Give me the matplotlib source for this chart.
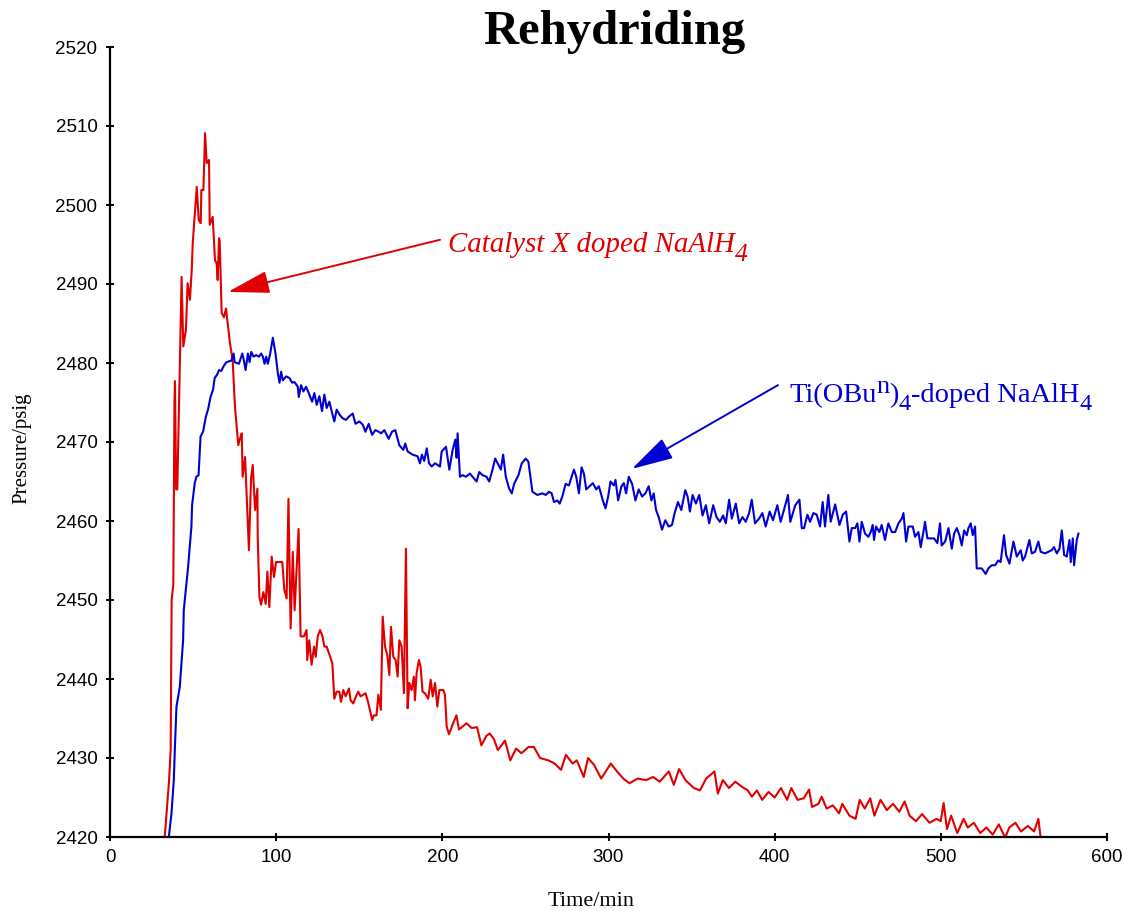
import matplotlib
matplotlib.use("Agg")
import matplotlib.pyplot as plt

# ---------------- data ----------------
red_t = [33.0, 35.5, 36.5, 37.1, 38.1, 38.8, 39.1, 39.8, 40.5, 43.1, 44.1, 45.7, 46.7, 48.1, 49.2, 49.8,
         52.2, 53.4, 54.6, 55.0, 56.2, 57.2, 58.2, 59.6, 60.0, 61.8, 63.2, 64.2, 64.8, 65.6, 66.0, 67.2,
         68.6, 69.8, 72.2, 73.8, 75.2, 77.2, 78.2, 79.3, 79.8, 81.3, 83.6, 84.9, 85.9, 87.3, 88.7, 88.9,
         89.9, 90.9, 92.3, 93.7, 94.7, 95.9, 97.3, 98.7, 99.9, 101.9, 103.7, 104.9, 106.3, 107.4, 108.7,
         110.0, 111.1, 113.5, 114.7, 116.7, 118.3, 118.7, 119.9, 121.3, 122.8, 123.8, 125.0, 126.4, 127.9,
         129.0, 130.4, 133.8, 135.0, 136.4, 138.0, 139.0, 140.4, 141.8, 143.8, 144.8, 146.4, 148.0, 149.4,
         150.8, 153.8, 155.4, 157.8, 158.8, 160.4, 161.5, 163.0, 164.1, 165.5, 166.9, 168.1, 169.1, 170.5,
         171.9, 173.1, 174.1, 175.5, 176.9, 178.1, 179.1, 180.1, 181.5, 182.9, 183.5, 184.5, 185.9, 186.9,
         188.1, 189.5, 191.5, 193.0, 194.2, 195.6, 197.0, 198.2, 200.6, 201.6, 202.6, 204.0, 206.5, 208.5,
         210.0, 214.5, 217.6, 220.9, 223.5, 226.5, 228.5, 231.0, 233.4, 237.7, 240.9, 244.4, 247.6, 251.9,
         255.1, 258.8, 263.8, 267.6, 271.4, 274.4, 278.4, 280.9, 285.1, 287.7, 291.4, 295.6, 301.4, 305.1,
         308.9, 312.6, 317.6, 322.6, 326.8, 330.8, 336.3, 339.3, 342.5, 346.3, 351.3, 355.0, 358.8, 363.8,
         365.8, 368.8, 372.5, 376.3, 380.0, 383.8, 386.3, 389.3, 392.5, 396.3, 400.0, 403.8, 407.5, 410.0,
         413.8, 417.5, 420.7, 422.5, 426.3, 428.3, 431.3, 435.0, 438.8, 440.7, 445.0, 448.7, 451.2, 454.2,
         457.5, 460.0, 463.7, 467.5, 471.2, 475.0, 478.2, 481.2, 485.0, 488.7, 493.2, 497.4, 499.9, 501.7,
         503.7, 506.2, 509.9, 513.7, 516.2, 519.9, 523.7, 527.4, 531.2, 534.9, 538.7, 541.2, 544.9, 548.2,
         552.4, 556.1, 558.7, 559.9]
red_p = [2420.2, 2427.0, 2431.0, 2450.0, 2452.0, 2475.0, 2477.7, 2464.0, 2464.0, 2490.9, 2482.1, 2484.2,
         2490.1, 2488.0, 2491.8, 2495.2, 2502.3, 2498.1, 2497.7, 2501.9, 2501.9, 2509.1, 2505.3, 2505.7,
         2497.5, 2498.5, 2493.0, 2492.6, 2490.5, 2495.8, 2495.5, 2486.3, 2485.8, 2486.9, 2482.5, 2480.4,
         2474.5, 2469.6, 2470.4, 2471.1, 2465.6, 2468.1, 2456.3, 2465.4, 2467.1, 2461.4, 2464.1, 2458.0,
         2450.4, 2449.4, 2451.0, 2449.5, 2453.6, 2449.1, 2455.5, 2452.9, 2454.8, 2454.8, 2454.8, 2451.3,
         2450.2, 2462.8, 2446.4, 2456.1, 2448.7, 2459.0, 2445.4, 2445.4, 2446.2, 2442.4, 2444.9, 2441.8,
         2444.1, 2442.8, 2445.4, 2446.2, 2445.4, 2444.1, 2444.1, 2442.0, 2437.5, 2438.4, 2438.4, 2437.1,
         2438.6, 2437.8, 2438.8, 2437.3, 2436.9, 2437.8, 2438.4, 2437.8, 2438.2, 2437.0, 2434.8, 2435.4,
         2435.4, 2438.0, 2436.1, 2447.9, 2444.1, 2443.0, 2440.5, 2446.6, 2442.8, 2442.4, 2440.3, 2444.9,
         2444.1, 2438.2, 2456.5, 2436.3, 2439.5, 2438.6, 2440.3, 2437.3, 2440.7, 2442.4, 2441.6, 2438.4,
         2438.2, 2437.5, 2439.9, 2437.8, 2439.5, 2436.5, 2438.6, 2438.6, 2438.0, 2434.0, 2433.0, 2434.4,
         2435.4, 2433.6, 2434.4, 2433.8, 2433.9, 2431.6, 2432.8, 2433.1, 2432.4, 2431.0, 2432.2, 2429.7,
         2431.2, 2430.6, 2431.4, 2431.4, 2430.0, 2429.7, 2429.3, 2428.5, 2430.4, 2429.3, 2429.7, 2427.6,
         2430.0, 2429.1, 2427.4, 2429.3, 2428.3, 2427.4, 2426.8, 2427.4, 2427.2, 2427.6, 2427.0, 2428.3,
         2426.6, 2428.6, 2427.2, 2426.2, 2425.9, 2427.4, 2428.3, 2425.5, 2427.2, 2426.2, 2427.0, 2426.4,
         2425.9, 2425.1, 2425.9, 2424.7, 2425.7, 2425.0, 2426.2, 2424.7, 2426.2, 2424.7, 2424.9, 2426.0,
         2423.8, 2424.2, 2425.1, 2423.6, 2424.0, 2423.0, 2424.2, 2422.7, 2422.3, 2424.7, 2423.6, 2424.9,
         2422.7, 2424.7, 2423.4, 2424.2, 2423.2, 2424.5, 2422.7, 2422.0, 2422.9, 2421.8, 2422.3, 2422.0,
         2424.3, 2421.0, 2422.7, 2420.5, 2422.3, 2421.2, 2421.8, 2420.5, 2421.2, 2420.3, 2421.6, 2419.9,
         2421.2, 2421.8, 2420.7, 2421.4, 2420.7, 2422.3, 2420.2]

blue_t = [35.4, 37.0, 38.4, 39.0, 40.0, 42.0, 44.0, 44.4, 47.0, 49.0, 49.4, 51.0, 52.0, 53.3, 54.5, 56.0,
          57.7, 59.1, 60.5, 62.0, 63.0, 64.4, 65.6, 67.0, 68.4, 70.0, 73.0, 74.4, 75.0, 77.6, 79.6, 80.4,
          81.6, 83.0, 84.0, 85.0, 86.4, 88.0, 89.6, 91.0, 92.0, 93.0, 94.0, 95.0, 96.4, 98.0, 99.6, 101.0,
          102.0, 103.0, 104.0, 106.0, 108.0, 109.6, 111.0, 113.0, 113.6, 115.0, 116.4, 118.0, 119.6, 121.6,
          123.0, 124.4, 126.0, 127.6, 129.0, 130.4, 132.0, 133.4, 135.0, 136.4, 138.0, 140.0, 142.0, 143.7,
          146.1, 147.7, 150.1, 152.1, 153.7, 155.7, 157.7, 159.7, 161.7, 163.1, 165.1, 167.7, 169.7, 171.7,
          174.1, 176.5, 177.7, 179.1, 182.1, 185.1, 186.5, 187.7, 189.1, 190.6, 192.0, 193.6, 195.6, 198.6,
          199.6, 202.2, 204.2, 206.2, 207.8, 208.6, 209.2, 210.6, 212.2, 214.2, 216.6, 218.2, 220.6, 222.2,
          224.2, 226.6, 228.2, 230.2, 231.8, 233.8, 235.2, 236.6, 238.2, 240.2, 241.8, 243.2, 245.8, 247.8,
          250.2, 251.8, 254.2, 257.2, 260.2, 262.2, 264.2, 265.8, 267.2, 269.2, 270.6, 272.2, 274.2, 276.2,
          277.8, 279.2, 280.6, 282.2, 283.8, 285.2, 286.6, 288.6, 290.6, 292.6, 294.2, 296.6, 298.2, 299.8,
          301.2, 303.2, 304.2, 305.8, 307.8, 309.2, 310.6, 312.2, 314.2, 316.2, 318.2, 320.2, 322.2, 324.2,
          325.8, 327.2, 328.6, 330.2, 332.2, 334.2, 336.2, 338.2, 339.8, 341.8, 343.8, 346.2, 347.6, 349.0,
          350.6, 352.6, 354.6, 356.6, 358.6, 360.6, 363.0, 365.0, 367.0, 369.0, 370.6, 372.6, 374.2, 376.6,
          378.6, 380.6, 382.6, 384.6, 386.2, 388.2, 390.6, 392.6, 394.6, 397.0, 399.0, 401.6, 403.6, 405.6,
          408.0, 409.4, 412.4, 414.9, 416.3, 417.7, 419.7, 421.3, 423.3, 425.3, 427.3, 428.9, 430.3, 432.3,
          433.7, 436.4, 439.0, 441.0, 443.0, 445.0, 446.4, 448.4, 449.8, 451.0, 452.4, 454.4, 456.4, 457.8,
          459.0, 459.8, 461.0, 463.0, 464.4, 466.4, 468.4, 470.5, 472.5, 474.5, 476.5, 477.5, 479.1, 480.5,
          483.1, 484.5, 486.5, 487.9, 489.5, 490.5, 491.9, 493.5, 495.9, 497.9, 499.5, 500.5, 502.6, 504.6,
          506.6, 508.0, 509.6, 511.2, 512.6, 514.0, 515.6, 516.6, 518.0, 519.2, 520.6, 521.6, 524.6, 527.0,
          528.6, 530.6, 532.6, 534.6, 536.0, 538.0, 539.3, 541.3, 543.7, 545.7, 548.1, 549.3, 550.7, 553.3,
          554.7, 556.7, 558.7, 560.1, 562.7, 566.7, 568.1, 569.8, 571.4, 572.8, 574.2, 575.8, 577.4, 578.2,
          579.4, 580.2, 581.8, 582.8]
blue_p = [2420.0, 2423.0, 2427.2, 2431.0, 2436.5, 2439.0, 2444.9, 2448.7, 2454.2, 2459.3, 2462.0, 2464.8,
          2465.6, 2465.8, 2470.7, 2471.3, 2473.2, 2474.2, 2475.7, 2476.6, 2478.1, 2478.5, 2479.1, 2479.0,
          2479.6, 2480.1, 2480.3, 2481.2, 2480.1, 2479.9, 2481.2, 2480.5, 2479.1, 2481.2, 2480.1, 2481.4,
          2480.8, 2481.0, 2480.8, 2481.2, 2480.8, 2479.9, 2480.8, 2479.9, 2481.2, 2483.2, 2481.2, 2478.7,
          2477.5, 2478.9, 2477.8, 2478.3, 2478.1, 2477.5, 2477.6, 2477.0, 2475.7, 2477.2, 2476.4, 2477.0,
          2476.2, 2475.1, 2476.2, 2474.7, 2475.8, 2473.9, 2476.0, 2474.3, 2475.1, 2473.9, 2472.6, 2474.1,
          2473.5, 2473.0, 2472.8, 2473.2, 2473.6, 2472.3, 2472.6, 2472.2, 2471.3, 2472.3, 2470.9, 2471.5,
          2471.3, 2471.1, 2471.5, 2470.4, 2471.3, 2471.5, 2469.6, 2469.0, 2469.8, 2468.8, 2468.4, 2468.2,
          2467.3, 2468.4, 2467.6, 2469.2, 2467.3, 2466.9, 2467.3, 2466.9, 2468.8, 2469.4, 2466.5, 2469.0,
          2470.3, 2468.0, 2471.1, 2465.6, 2465.8, 2465.6, 2466.0, 2465.6, 2465.0, 2466.2, 2465.8, 2465.6,
          2465.0, 2466.5, 2467.9, 2467.1, 2466.5, 2468.4, 2465.6, 2464.1, 2463.5, 2464.7, 2465.8, 2467.3,
          2467.9, 2467.5, 2463.7, 2463.3, 2463.5, 2463.3, 2463.7, 2463.5, 2462.4, 2462.6, 2462.2, 2463.1,
          2464.7, 2464.5, 2465.6, 2466.5, 2465.6, 2463.5, 2466.8, 2466.0, 2464.0, 2464.4, 2464.8, 2464.0,
          2464.4, 2462.6, 2461.6, 2463.1, 2465.0, 2464.5, 2465.2, 2462.6, 2464.4, 2464.8, 2463.5, 2465.6,
          2464.7, 2462.6, 2464.0, 2463.1, 2463.5, 2464.4, 2462.6, 2463.5, 2461.4, 2460.5, 2458.9, 2460.1,
          2459.3, 2459.5, 2461.0, 2462.4, 2461.4, 2463.9, 2463.1, 2461.2, 2463.3, 2462.2, 2463.3, 2460.7,
          2462.0, 2459.7, 2462.0, 2460.5, 2459.9, 2460.7, 2459.7, 2462.7, 2460.3, 2462.2, 2459.7, 2460.5,
          2459.9, 2461.0, 2462.7, 2459.7, 2460.3, 2461.0, 2459.3, 2461.2, 2460.1, 2462.0, 2459.9, 2461.4,
          2463.3, 2459.9, 2462.0, 2462.7, 2459.1, 2459.1, 2460.8, 2459.9, 2461.0, 2460.8, 2459.3, 2462.4,
          2459.3, 2463.3, 2459.9, 2462.1, 2459.5, 2460.8, 2461.2, 2457.4, 2459.1, 2459.1, 2459.7, 2457.4,
          2459.9, 2458.4, 2458.0, 2458.6, 2459.5, 2457.6, 2459.3, 2458.6, 2459.5, 2457.6, 2459.7, 2458.6,
          2458.6, 2459.7, 2460.3, 2461.0, 2457.4, 2459.3, 2459.3, 2458.0, 2458.6, 2456.7, 2458.6, 2459.9,
          2457.8, 2457.8, 2457.8, 2457.2, 2459.7, 2456.9, 2457.4, 2459.1, 2456.5, 2458.4, 2459.1, 2458.2,
          2456.9, 2458.8, 2458.2, 2459.1, 2459.7, 2458.2, 2459.3, 2454.0, 2454.0, 2453.3, 2454.0, 2454.4,
          2454.4, 2455.0, 2454.8, 2458.2, 2455.7, 2454.6, 2457.4, 2455.5, 2456.3, 2455.0, 2455.5, 2457.6,
          2455.9, 2456.1, 2457.4, 2456.1, 2455.9, 2456.3, 2456.7, 2455.9, 2456.5, 2458.8, 2455.7, 2455.5,
          2457.6, 2454.8, 2457.8, 2454.4, 2457.6, 2458.4]

x_ticks = [0, 100, 200, 300, 400, 500, 600]
y_ticks = [2420, 2430, 2440, 2450, 2460, 2470, 2480, 2490, 2500, 2510, 2520]

title = "Rehydriding"
x_label = "Time/min"
y_label = "Pressure/psig"
# label pieces: (text, vertical shift in px, font size)
red_label = [("Catalyst X doped NaAlH", 0, 20.8), ("4", -9, 18.5)]
blue_label = [("Ti(OBu", 0, 20.5), ("n", 9, 19), (")", 0, 20.5), ("4", -8, 17.5),
              ("-doped NaAlH", 0, 20.5), ("4", -8, 17.5)]

RED = '#e00000'
BLUE = '#0000d2'

# ---------------- figure ----------------
W, H = 1128, 911
fig = plt.figure(figsize=(W / 100, H / 100), dpi=100)
ax = fig.add_axes([110 / W, 1 - 837 / H, (1107 - 110) / W, (837 - 47) / H])

ax.plot(red_t, red_p, color=RED, lw=1.5, solid_joinstyle='round')
ax.plot(blue_t, blue_p, color=BLUE, lw=1.5, solid_joinstyle='round')

ax.set_xlim(0, 600)
ax.set_ylim(2420, 2520)
ax.set_xticks(x_ticks)
ax.set_yticks(y_ticks)
for s in ['top', 'right']:
    ax.spines[s].set_visible(False)
for s in ['left', 'bottom']:
    ax.spines[s].set_linewidth(1.6)
ax.tick_params(direction='inout', length=6, width=1.4, labelsize=13.5, pad=6)
for lab in ax.get_xticklabels() + ax.get_yticklabels():
    lab.set_family('Liberation Sans')

fig.text(614 / W, 1 - 32 / H, title, ha='center', va='center',
         family='Liberation Serif', fontweight='bold', fontsize=35)
fig.text(591 / W, 1 - 901 / H, x_label, ha='center', va='center',
         family='Liberation Serif', fontsize=16)
fig.text(22 / W, 1 - 448 / H, y_label, ha='center', va='center', rotation=90,
         family='Liberation Serif', fontsize=15)

# annotations
ax.annotate('', xy=(71.0, 2489.0), xytext=(198.6, 2495.6),
            arrowprops=dict(arrowstyle='-|>,head_length=1.3,head_width=0.35',
                            mutation_scale=20, color=RED, lw=1.4, shrinkA=0, shrinkB=0))
ax.annotate('', xy=(314.1, 2466.6), xytext=(402.0, 2477.2),
            arrowprops=dict(arrowstyle='-|>,head_length=1.3,head_width=0.35',
                            mutation_scale=20, color=BLUE, lw=1.4, shrinkA=0, shrinkB=0))

renderer = fig.canvas.get_renderer()


def place_pieces(pieces, x0, base, color, style):
    x = x0
    for txt, dy, size in pieces:
        t = fig.text(x / W, 1 - (base - dy) / H, txt, ha='left', va='baseline', color=color,
                     family='Liberation Serif', fontstyle=style, fontsize=size)
        bb = t.get_window_extent(renderer)
        x += bb.width


place_pieces(red_label, 448, 252, RED, 'italic')
place_pieces(blue_label, 789, 402, BLUE, 'normal')

fig.savefig('out.png', dpi=100)
